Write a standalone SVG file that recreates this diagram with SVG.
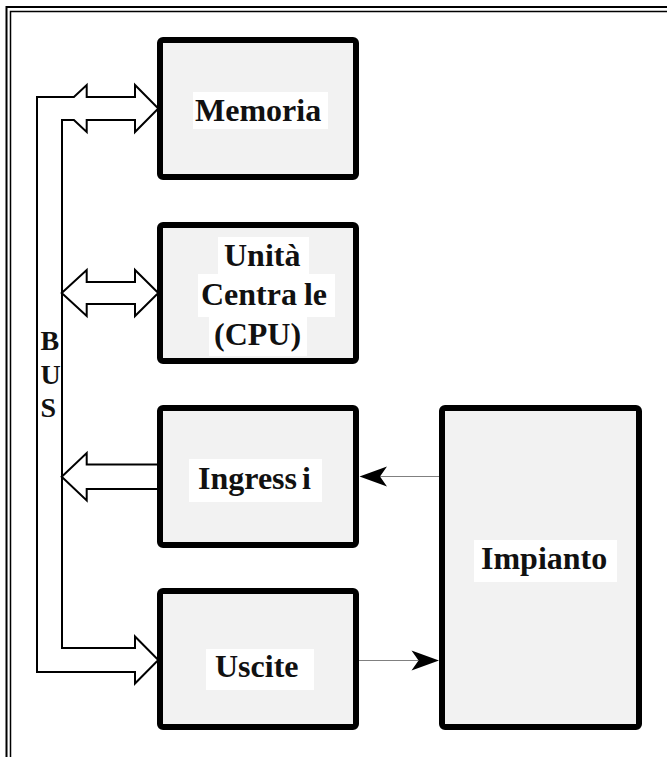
<svg xmlns="http://www.w3.org/2000/svg" width="667" height="757" viewBox="0 0 667 757">
<defs>
<style>
.box{fill:#f2f2f2;stroke:#000;stroke-width:6;stroke-linejoin:round}
.lbl{fill:#fff;stroke:none}
.t{font-family:"Liberation Serif","Times New Roman",serif;font-weight:bold;font-size:32px;fill:#111}
.bus{font-family:"Liberation Serif","Times New Roman",serif;font-weight:bold;font-size:28px;fill:#111}
.fat{fill:#fff;stroke:#000;stroke-width:2;stroke-linejoin:miter}
.thin{stroke:#808080;stroke-width:1;fill:none}
.head{fill:#000;stroke:none}
.frame{fill:none;stroke:#000}
</style>
</defs>
<rect width="667" height="757" fill="#fff"/>
<g id="frame">
<path class="frame" d="M6.5,757 V7 H667" stroke-width="2"/>
<path class="frame" d="M10.5,757 V11.5 H667" stroke-width="1.5"/>
</g>
<g id="connectors">
<path class="fat" d="M37,97 L73.9,97 L86.7,85 L86.7,97 L135,97 L135,85 L158.3,108.5 L135,132 L135,120 L86.7,120 L86.7,132 L73.9,120 L62,120 L62,648 L135,648 L135,636.5 L158.3,660 L135,683.5 L135,672 L37,672 Z"/>
<path class="fat" d="M61.7,293 L86.7,270 L86.7,282 L135,282 L135,270 L158.3,293 L135,316 L135,304 L86.7,304 L86.7,316 Z"/>
<path class="fat" d="M157,464.5 L86.7,464.5 L86.7,453 L61.7,476.7 L86.7,500.4 L86.7,489 L157,489"/>
<line class="thin" x1="380" y1="476.5" x2="439" y2="476.5"/>
<path class="head" d="M359.5,476.5 L387,466.5 L380,476.5 L387,486.5 Z"/>
<line class="thin" x1="359" y1="660.5" x2="418" y2="660.5"/>
<path class="head" d="M439,660.5 L411.5,650.5 L418.5,660.5 L411.5,670.5 Z"/>
<g id="bus-label">
<text class="bus" x="40.5" y="350">B</text>
<text class="bus" x="40.5" y="383.5">U</text>
<text class="bus" x="40.5" y="417">S</text>
</g>
</g>
<g id="memoria">
<rect class="box" x="160" y="40" width="196" height="137" rx="3"/>
<rect class="lbl" x="193" y="92" width="135" height="37"/>
<text class="t" x="195" y="120.5">Memoria</text>
</g>
<g id="cpu">
<rect class="box" x="160" y="225" width="196" height="136" rx="3"/>
<rect class="lbl" x="218" y="237" width="91" height="37"/>
<rect class="lbl" x="198" y="274" width="137" height="43"/>
<rect class="lbl" x="209" y="317" width="98" height="39"/>
<text class="t" x="224" y="265.5">Unità</text>
<text class="t" x="201" y="305">Centra<tspan dx="7">le</tspan></text>
<text class="t" x="214" y="344.5">(CPU)</text>
</g>
<g id="ingressi">
<rect class="box" x="160" y="408" width="196" height="137" rx="3"/>
<rect class="lbl" x="189" y="459" width="133" height="43"/>
<text class="t" x="198" y="489">Ingress<tspan dx="5">i</tspan></text>
</g>
<g id="uscite">
<rect class="box" x="160" y="591" width="196" height="136" rx="3"/>
<rect class="lbl" x="206" y="649" width="108" height="41"/>
<text class="t" x="215" y="676.5">Uscite</text>
</g>
<g id="impianto">
<rect class="box" x="442" y="408" width="197" height="319" rx="3"/>
<rect class="lbl" x="474" y="540" width="143" height="42"/>
<text class="t" x="481" y="569">Impianto</text>
</g>
</svg>
